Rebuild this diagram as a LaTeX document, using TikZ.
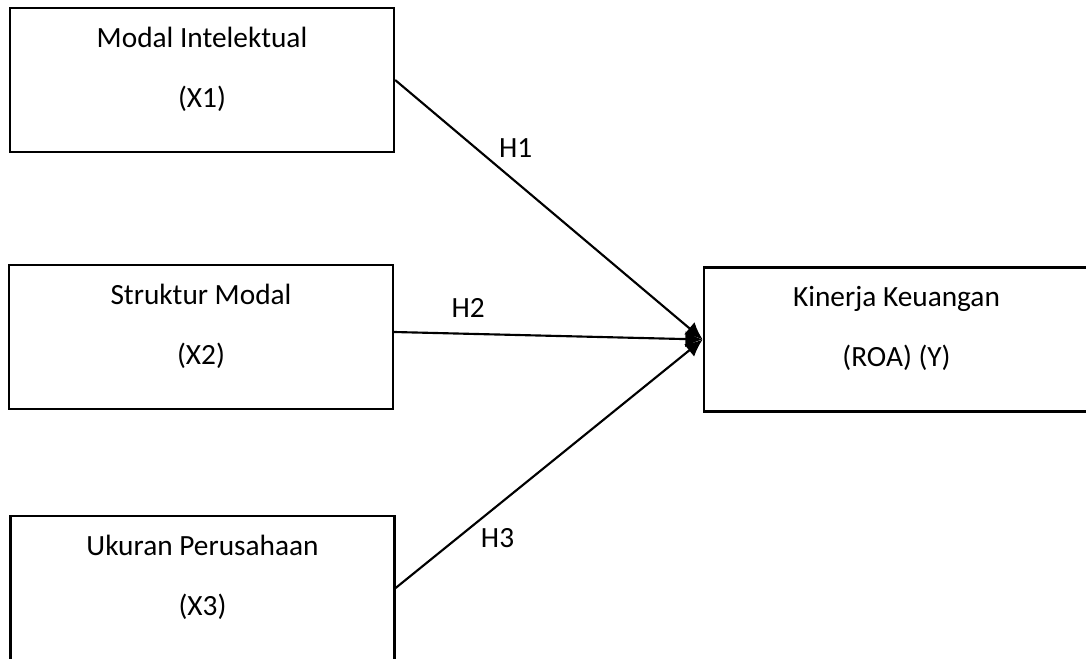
\documentclass[tikz,border=0pt]{standalone}
\usepackage{fontspec}
\setmainfont{Carlito}
\usetikzlibrary{arrows.meta,positioning}

\begin{document}
\begin{tikzpicture}[x=0.75pt,y=-0.75pt,>={Latex[length=13pt,width=12pt]},auto,
  var/.style={draw,line width=1.7pt,minimum width=288pt,minimum height=108pt,inner sep=0pt},
  txt/.style={align=center,font=\fontsize{22}{45}\selectfont},
  hyp/.style={font=\fontsize{22}{26}\selectfont}]

\useasboundingbox (0,0) rectangle (1086,659);
\clip (0,0) rectangle (1086,659);

\node[var]   (x1) at (202,80)      {};
 \node[var]   (x2) at (201,337)    {};
\node[var]   (x3) at (202.5,588)  {};
\node[var,minimum width=289pt]   (y) at (896.5,339.5)  {};

\node[txt] (t1) at ([yshift=-46.5pt]x1.north) {Modal Intelektual\\(X1)};
\node[txt] (t2) at ([yshift=-46.5pt]x2.north) {Struktur Modal\\(X2)};
\node[txt] (t3) at ([yshift=-46.5pt]x3.north) {Ukuran Perusahaan\\(X3)};
\node[txt] (ty) at ([yshift=-46.5pt]y.north)  {Kinerja Keuangan\\(ROA) (Y)};

	\path[->,line width=1.6pt] (x1.east)  edge  node[hyp,pos=0.32]{H1}  (y.west)
        ([yshift=3.75pt]x2.east) edge node[hyp,pos=0.24,yshift=8pt]{H2} (y.west)
					(x3.east) edge node[hyp,pos=0.26,swap]{H3} (y.west);

\end{tikzpicture}
\end{document}
